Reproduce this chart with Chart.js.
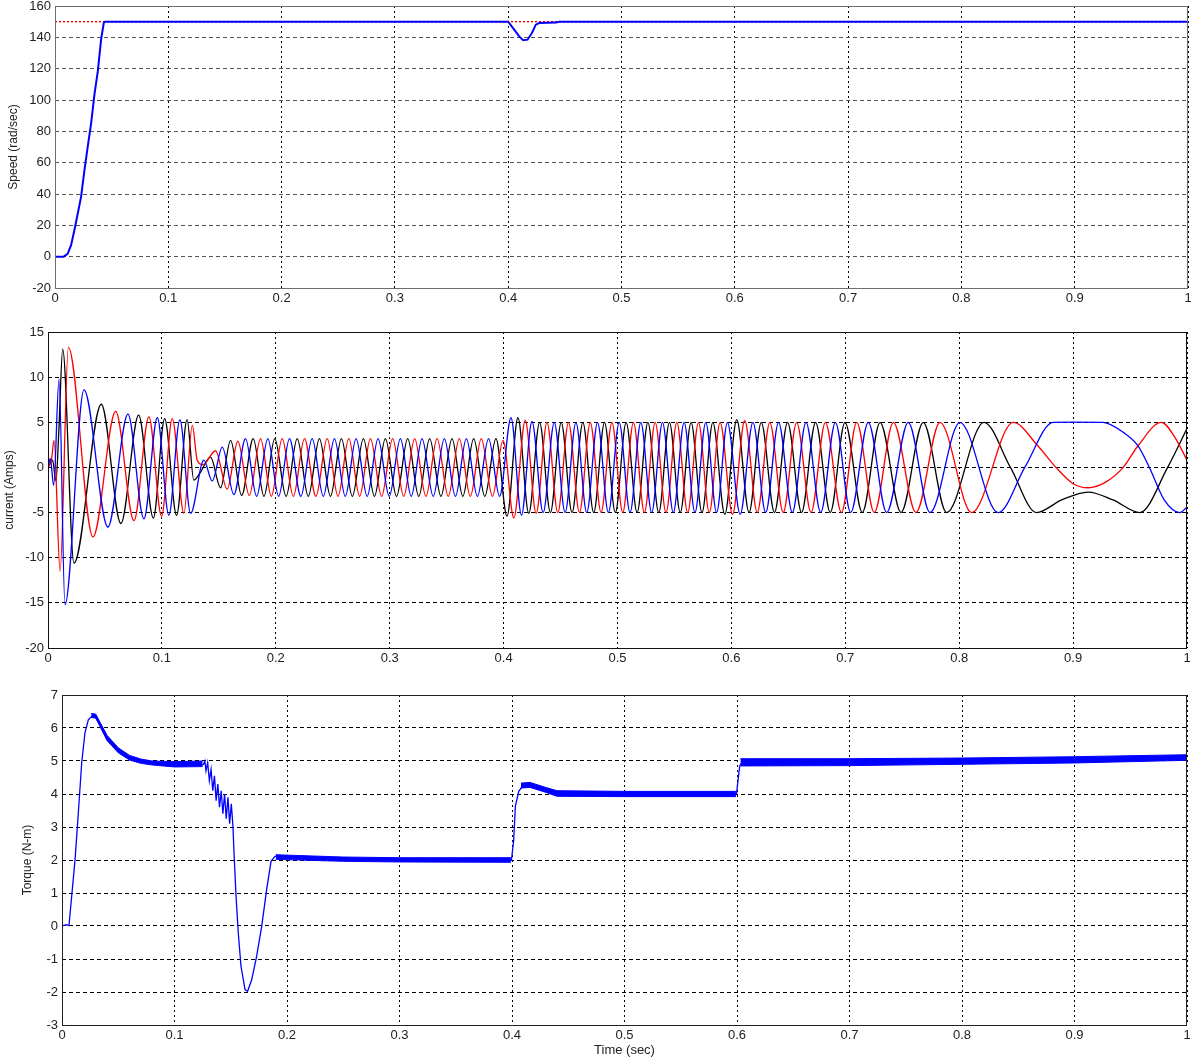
<!DOCTYPE html>
<html>
<head>
<meta charset="utf-8">
<script src="https://cdn.jsdelivr.net/npm/chart.js@4.4.1/dist/chart.umd.min.js"></script>
<style>
  html, body { margin: 0; padding: 0; background: #fff; }
  canvas { position: absolute; left: 0; display: block; }
</style>
</head>
<body>
<canvas id="speedChart" width="1191" height="310" style="top:0px"></canvas>
<canvas id="currentChart" width="1191" height="360" style="top:310px"></canvas>
<canvas id="torqueChart" width="1191" height="389" style="top:670px"></canvas>
<script>
// ---- axis ticks ----
const timeTicks = [0, 0.1, 0.2, 0.3, 0.4, 0.5, 0.6, 0.7, 0.8, 0.9, 1];
const timeLabels = ['0', '0.1', '0.2', '0.3', '0.4', '0.5', '0.6', '0.7', '0.8', '0.9', '1'];
const speedTicks = [-20, 0, 20, 40, 60, 80, 100, 120, 140, 160];
const currentTicks = [-20, -15, -10, -5, 0, 5, 10, 15];
const torqueTicks = [-3, -2, -1, 0, 1, 2, 3, 4, 5, 6, 7];

// ---- rotor speed (rad/sec): [time, value] ----
const speedRef = [[0, 150], [1, 150]];
const speedActual = [
  [0, 0], [0.0077, 0], [0.0112, 1.9], [0.0142, 7.3], [0.0171, 16.9], [0.0201, 27.6],
  [0.023, 38.2], [0.026, 55.3], [0.0289, 70.3], [0.0319, 85.3], [0.0348, 103.4],
  [0.0378, 118.4], [0.0407, 138.7], [0.0431, 149.4], [0.0442, 150], [0.4, 150],
  [0.4053, 144.9], [0.4097, 140.6], [0.4132, 138.1], [0.4171, 138.5], [0.4209, 142.8],
  [0.4244, 148.1], [0.4274, 149.1], [0.4421, 149.4], [0.445, 150], [1, 150]
];

// ---- stator phase currents (Amps): turning points [time, value] ----
const currentRed = [
  [0, 0], [0.003, 0.8], [0.0053, 3.0], [0.0106, -11.5], [0.0179, 13.3], [0.0395, -7.7],
  [0.0594, 6.2], [0.0755, -5.9], [0.0886, 5.6], [0.0997, -5.4], [0.1091, 5.4], [0.1193, -5.1],
  [0.1267, 4.65], [0.131, 0.8], [0.136, 0.3], [0.1471, 1.85], [0.1573, -2.4], [0.1667, 2.9],
  [0.1767, -3.1], [0.1866, 3.2], [0.1961, -3.2], [0.2056, 3.2], [0.2154, -3.2], [0.2252, 3.2],
  [0.2352, -3.2], [0.2451, 3.2], [0.2546, -3.2], [0.2641, 3.2], [0.2736, -3.2], [0.2831, 3.2],
  [0.2929, -3.2], [0.3026, 3.2], [0.3123, -3.2], [0.3219, 3.2], [0.3318, -3.2], [0.3416, 3.2],
  [0.3514, -3.2], [0.3611, 3.2], [0.3708, -3.2], [0.3804, 3.2], [0.3902, -3.2], [0.3995, 3.0],
  [0.409, -5.6], [0.419, 5.2], [0.4286, -5.1], [0.4381, 5.0], [0.4476, -5.0], [0.457, 5.0],
  [0.4666, -5.0], [0.4761, 5.0], [0.4856, -5.0], [0.4951, 5.0], [0.5046, -5.0], [0.514, 5.0],
  [0.5236, -5.0], [0.5331, 5.0], [0.5426, -5.0], [0.5521, 5.0], [0.5616, -5.0], [0.5711, 5.0],
  [0.5806, -5.0], [0.5901, 5.0], [0.601, -5.2], [0.6117, 5.2], [0.6227, -5.0], [0.6337, 5.0],
  [0.6455, -5.0], [0.6573, 5.0], [0.6699, -5.0], [0.6825, 5.0], [0.6966, -5.0], [0.71, 5.0],
  [0.7254, -5.0], [0.7422, 5.0], [0.762, -5.0], [0.7831, 5.0], [0.8109, -5.0], [0.8474, 5.0],
  [0.869, 2.4], [0.885, 0], [0.9, -1.8], [0.9132, -2.25], [0.929, -1.6], [0.944, 0],
  [0.957, 2.4], [0.9775, 5.0], [0.99, 3.2], [1.0, 0.8]
];
const currentBlack = [
  [0, 0], [0.004, 0.8], [0.007, -1.5], [0.0095, 4.0], [0.0129, 13.1], [0.0228, -10.6],
  [0.0468, 7.0], [0.064, -6.2], [0.0796, 5.8], [0.0925, -5.6], [0.1024, 5.4], [0.1129, -5.3],
  [0.1221, 5.3], [0.128, -1.4], [0.1335, -0.6], [0.1427, 1.15], [0.1515, -2.25], [0.1603, 3.0],
  [0.17, -3.1], [0.1802, 3.2], [0.1896, -3.2], [0.1991, 3.2], [0.209, -3.2], [0.2188, 3.2],
  [0.2285, -3.2], [0.2383, 3.2], [0.248, -3.2], [0.2576, 3.2], [0.2672, -3.2], [0.2769, 3.2],
  [0.2866, -3.2], [0.2962, 3.2], [0.306, -3.2], [0.3158, 3.2], [0.3255, -3.2], [0.3351, 3.2],
  [0.345, -3.2], [0.3547, 3.2], [0.3642, -3.2], [0.3737, 3.2], [0.3835, -3.2], [0.3933, 3.2],
  [0.403, -5.4], [0.4126, 5.5], [0.4221, -5.1], [0.4316, 5.0], [0.4411, -5.0], [0.4506, 5.0],
  [0.4601, -5.0], [0.4696, 5.0], [0.4791, -5.0], [0.4886, 5.0], [0.4981, -5.0], [0.5076, 5.0],
  [0.5172, -5.0], [0.5267, 5.0], [0.5362, -5.0], [0.5456, 5.0], [0.5551, -5.0], [0.5646, 5.0],
  [0.5742, -5.0], [0.5837, 5.0], [0.5942, -5.2], [0.6047, 5.3], [0.6155, -5.0], [0.6262, 5.0],
  [0.6378, -5.0], [0.6493, 5.0], [0.6616, -5.0], [0.6739, 5.0], [0.6868, -5.0], [0.6997, 5.0],
  [0.7149, -5.0], [0.7305, 5.0], [0.7489, -5.0], [0.7684, 5.0], [0.7889, -5.0], [0.8217, 5.0],
  [0.845, 0], [0.8679, -5.0], [0.89, -3.6], [0.9132, -2.73], [0.935, -3.6], [0.9585, -5.0],
  [0.983, 0], [1.0, 4.3]
];
const currentBlue = [
  [0, 0], [0.002, 1.0], [0.005, -2.0], [0.0097, 9.8], [0.0149, -15.2], [0.0316, 8.6],
  [0.0526, -6.6], [0.0702, 5.9], [0.0842, -5.7], [0.096, 5.5], [0.1061, -5.3], [0.1158, 5.3],
  [0.1252, -5.1], [0.1368, 0.8], [0.1442, -1.5], [0.153, 2.25], [0.1632, -3.0], [0.1734, 3.2],
  [0.1832, -3.2], [0.193, 3.2], [0.2025, -3.2], [0.212, 3.2], [0.222, -3.2], [0.2319, 3.2],
  [0.2417, -3.2], [0.2515, 3.2], [0.261, -3.2], [0.2705, 3.2], [0.2802, -3.2], [0.2898, 3.2],
  [0.2996, -3.2], [0.3094, 3.2], [0.3189, -3.2], [0.3284, 3.2], [0.3382, -3.2], [0.348, 3.2],
  [0.3577, -3.2], [0.3673, 3.2], [0.377, -3.2], [0.3868, 3.2], [0.3965, -3.2], [0.4065, 5.5],
  [0.4157, -5.3], [0.4249, 5.1], [0.4347, -5.0], [0.4445, 5.0], [0.454, -5.0], [0.4635, 5.0],
  [0.473, -5.0], [0.4825, 5.0], [0.492, -5.0], [0.5015, 5.0], [0.511, -5.0], [0.5205, 5.0],
  [0.53, -5.0], [0.5395, 5.0], [0.549, -5.0], [0.5585, 5.0], [0.568, -5.0], [0.5775, 5.0],
  [0.587, -5.0], [0.5965, 5.0], [0.6077, -5.2], [0.6189, 5.0], [0.6301, -5.0], [0.6414, 5.0],
  [0.6535, -5.0], [0.6655, 5.0], [0.6784, -5.0], [0.6913, 5.0], [0.7047, -5.0], [0.7202, 5.0],
  [0.7363, -5.0], [0.7553, 5.0], [0.7743, -5.0], [0.8006, 5.0], [0.8342, -5.0], [0.8576, 0],
  [0.8825, 5.0], [0.9, 5.02], [0.9263, 5.0], [0.945, 3.8], [0.957, 2.4], [0.967, 0],
  [0.98, -3.6], [0.9936, -5.0], [1.0, -4.4]
];

// ---- electromagnetic torque (N-m): [time, value] ----
const torqueTrace = [
  [0, 0], [0.0041, 0.04], [0.0062, 0.01], [0.0086, 0.9], [0.0116, 2.01], [0.0145, 3.42],
  [0.0175, 4.94], [0.0204, 5.85], [0.0234, 6.25], [0.0279, 6.4], [0.0323, 6.2], [0.0382, 5.8],
  [0.0441, 5.5], [0.053, 5.24], [0.0619, 5.09], [0.0738, 4.99], [0.0856, 4.94], [0.1004, 4.89],
  [0.1256, 4.89], [0.127, 5.0], [0.128, 4.7], [0.1295, 4.95], [0.131, 4.4], [0.1325, 4.75],
  [0.134, 4.1], [0.1355, 4.55], [0.137, 3.8], [0.1385, 4.3], [0.14, 3.6], [0.1415, 4.1],
  [0.143, 3.4], [0.1445, 4.0], [0.146, 3.25], [0.1475, 3.9], [0.149, 3.1], [0.1505, 3.7],
  [0.152, 3.0], [0.1529, 2.21], [0.1547, 0.9], [0.1567, -0.21], [0.1591, -1.22], [0.1627, -1.93],
  [0.165, -1.98], [0.1686, -1.63], [0.173, -0.92], [0.1775, -0.01], [0.1819, 1.1], [0.1858, 1.96],
  [0.1893, 2.11], [0.1982, 2.11], [0.25, 2.03], [0.3, 2.01], [0.3995, 2.0], [0.4015, 2.6],
  [0.403, 3.63], [0.406, 4.08], [0.4103, 4.28], [0.4162, 4.28], [0.425, 4.16], [0.434, 4.03],
  [0.45, 4.01], [0.5, 4.0], [0.5995, 4.0], [0.6024, 4.85], [0.6044, 4.95], [0.7, 4.96],
  [0.8, 5.0], [0.9, 5.04], [1.0, 5.11]
];
// ripple envelopes along the torque trace: [time, upper, lower]
const rippleStart = [
  [0.026, 6.44, 6.32], [0.03, 6.42, 6.3], [0.04, 5.78, 5.62], [0.05, 5.4, 5.25], [0.06, 5.17, 5.03],
  [0.07, 5.06, 4.93], [0.08, 5.0, 4.88], [0.1, 4.98, 4.82], [0.125, 5.0, 4.83]
];
const rippleLow = [
  [0.19, 2.16, 2.02], [0.25, 2.09, 1.96], [0.3, 2.07, 1.94], [0.399, 2.07, 1.93]
];
const rippleMid = [
  [0.408, 4.33, 4.18], [0.416, 4.35, 4.2], [0.43, 4.2, 4.05], [0.44, 4.1, 3.93],
  [0.5, 4.08, 3.92], [0.599, 4.08, 3.92]
];
const rippleHigh = [
  [0.603, 5.07, 4.85], [0.7, 5.07, 4.86], [0.8, 5.09, 4.9], [0.9, 5.13, 4.94], [1.0, 5.19, 5.02]
];

const FONT = "'Liberation Sans', Arial, Helvetica, sans-serif";
const NARROW = "'Liberation Sans Narrow', 'Arial Narrow', 'Liberation Sans', sans-serif";

const toXY = pts => pts.map(([x, y]) => ({ x, y }));

// box around each plot area
const framePlugin = {
  id: 'frame',
  afterDatasetsDraw(chart, args, opts) {
    const { ctx, chartArea: a } = chart;
    ctx.save();
    ctx.strokeStyle = opts.color || '#000';
    ctx.lineWidth = 1;
    ctx.setLineDash([]);
    ctx.strokeRect(Math.round(a.left) + 0.5, Math.round(a.top) + 0.5,
                   Math.round(a.right - a.left) - 1, Math.round(a.bottom - a.top));
    ctx.restore();
  }
};

function timeAxis(height, title) {
  return {
    type: 'linear', min: 0, max: 1,
    afterBuildTicks: s => { s.ticks = timeTicks.map(v => ({ value: v })); },
    afterFit: s => { s.height = height; s.paddingLeft = 0; s.paddingRight = 0; },
    ticks: {
      autoSkip: false, maxRotation: 0, padding: 3, color: '#222',
      font: { family: FONT, size: 13 },
      callback: (v, i) => timeLabels[i]
    },
    grid: { color: '#000', lineWidth: 1, drawTicks: false },
    border: { display: false, dash: [2, 3] },
    title: title ? {
      display: true, text: title, color: '#222',
      font: { family: FONT, size: 13 }, padding: { top: 0, bottom: 1 }
    } : { display: false }
  };
}

function valueAxis(min, max, ticks, width, title, titlePad, gridColor, dash) {
  return {
    type: 'linear', min, max,
    afterBuildTicks: s => { s.ticks = ticks.map(v => ({ value: v })); },
    afterFit: s => { s.width = width; s.paddingTop = 0; s.paddingBottom = 0; },
    ticks: {
      autoSkip: false, padding: 4, color: '#222',
      font: { family: FONT, size: 13 },
      callback: v => String(v)
    },
    grid: { color: gridColor, lineWidth: 1, drawTicks: false },
    border: { display: false, dash },
    title: {
      display: true, text: title, color: '#222',
      font: { family: NARROW, size: 12 }, padding: { top: titlePad, bottom: 0 }
    }
  };
}

function commonOptions(pad, frameColor, scales) {
  return {
    responsive: false, animation: false, events: [],
    layout: { padding: pad },
    plugins: { legend: { display: false }, tooltip: { enabled: false }, frame: { color: frameColor } },
    scales
  };
}

const lineStyle = (color, width) => ({
  borderColor: color, backgroundColor: color, borderWidth: width,
  pointRadius: 0, fill: false, tension: 0
});

// ---- speed ----
new Chart(document.getElementById('speedChart'), {
  type: 'line',
  data: {
    datasets: [
      Object.assign({ data: toXY(speedActual), order: 0 }, lineStyle('#0000ff', 2)),
      Object.assign({ data: toXY(speedRef), order: 1, borderDash: [2, 2] }, lineStyle('#ff0000', 1.5))
    ]
  },
  options: commonOptions({ top: 6, right: 3, left: 0, bottom: 0 }, '#6e6e6e', {
    x: timeAxis(22),
    y: valueAxis(-20, 160, speedTicks, 55, 'Speed (rad/sec)', 6, '#555', [4, 3])
  }),
  plugins: [framePlugin]
});

// ---- phase currents ----
const curveStyle = color => Object.assign(lineStyle(color, 1.3), { cubicInterpolationMode: 'monotone' });
new Chart(document.getElementById('currentChart'), {
  type: 'line',
  data: {
    datasets: [
      Object.assign({ data: toXY(currentBlue), order: 0 }, curveStyle('#0000ff')),
      Object.assign({ data: toXY(currentRed), order: 1 }, curveStyle('#ff0000')),
      Object.assign({ data: toXY(currentBlack), order: 2 }, curveStyle('#000000'))
    ]
  },
  options: commonOptions({ top: 22, right: 4, left: 0, bottom: 0 }, '#111', {
    x: timeAxis(22),
    y: valueAxis(-20, 15, currentTicks, 48, 'current (Amps)', 2, '#000', [4, 3])
  }),
  plugins: [framePlugin]
});

// ---- torque ----
const rippleSets = [];
[rippleStart, rippleLow, rippleMid, rippleHigh].forEach(run => {
  rippleSets.push(Object.assign({ data: run.map(r => ({ x: r[0], y: r[1] })), order: 1 },
    lineStyle('#0000ff', 1)));
  rippleSets.push(Object.assign({ data: run.map(r => ({ x: r[0], y: r[2] })), order: 1 },
    lineStyle('#0000ff', 1), { fill: '-1', backgroundColor: '#0000ff' }));
});
new Chart(document.getElementById('torqueChart'), {
  type: 'line',
  data: {
    datasets: [Object.assign({ data: toXY(torqueTrace), order: 0 }, lineStyle('#0000ff', 1.3))]
      .concat(rippleSets)
  },
  options: commonOptions({ top: 25, right: 4, left: 0, bottom: 0 }, '#222', {
    x: timeAxis(34, 'Time (sec)'),
    y: valueAxis(-3, 7, torqueTicks, 62, 'Torque (N-m)', 20, '#000', [4, 3])
  }),
  plugins: [framePlugin]
});
</script>
</body>
</html>
